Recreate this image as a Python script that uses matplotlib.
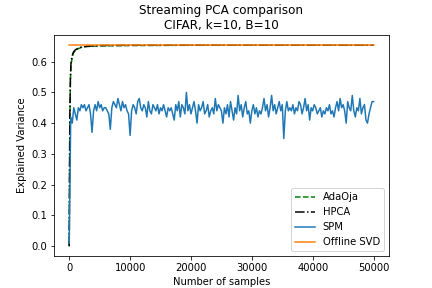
import matplotlib

matplotlib.use("Agg")
import matplotlib.pyplot as plt
import numpy as np

# --- data ---
conv_samples = [0, 50, 100, 200, 300, 500, 700, 1000, 1500, 2000, 3000,
                5000, 10000, 20000, 30000, 40000, 50000]
adaoja = [0.0, 0.22, 0.40, 0.54, 0.59, 0.615, 0.628, 0.636, 0.642, 0.646,
          0.649, 0.651, 0.652, 0.653, 0.653, 0.653, 0.653]
hpca = [0.0, 0.24, 0.42, 0.55, 0.60, 0.62, 0.631, 0.638, 0.644, 0.647,
        0.650, 0.652, 0.653, 0.653, 0.653, 0.653, 0.653]

spm_step = 250
spm = [
    0.01, 0.42, 0.40, 0.45, 0.43, 0.41, 0.45, 0.44, 0.46, 0.45,
    0.46, 0.44, 0.45, 0.46, 0.43, 0.37, 0.44, 0.46, 0.44, 0.47,
    0.45, 0.46, 0.44, 0.45, 0.45, 0.44, 0.43, 0.38, 0.45, 0.47,
    0.46, 0.45, 0.48, 0.46, 0.44, 0.47, 0.45, 0.46, 0.44, 0.43,
    0.36, 0.44, 0.46, 0.45, 0.43, 0.47, 0.48, 0.45, 0.44, 0.46,
    0.45, 0.42, 0.47, 0.44, 0.43, 0.46, 0.45, 0.44, 0.46, 0.43,
    0.45, 0.44, 0.46, 0.44, 0.42, 0.45, 0.44, 0.45, 0.43, 0.41,
    0.46, 0.44, 0.47, 0.42, 0.46, 0.45, 0.43, 0.50, 0.44, 0.46,
    0.43, 0.45, 0.47, 0.44, 0.40, 0.46, 0.44, 0.45, 0.47, 0.43,
    0.44, 0.46, 0.42, 0.44, 0.45, 0.43, 0.48, 0.44, 0.46, 0.45,
    0.44, 0.40, 0.45, 0.43, 0.46, 0.42, 0.47, 0.44, 0.41, 0.45,
    0.43, 0.49, 0.44, 0.46, 0.42, 0.45, 0.47, 0.43, 0.44, 0.40,
    0.44, 0.46, 0.43, 0.45, 0.42, 0.44, 0.43, 0.45, 0.48, 0.44,
    0.46, 0.42, 0.45, 0.49, 0.44, 0.46, 0.43, 0.45, 0.47, 0.44,
    0.46, 0.35, 0.44, 0.47, 0.44, 0.45, 0.44, 0.46, 0.43, 0.45,
    0.44, 0.47, 0.46, 0.43, 0.45, 0.48, 0.44, 0.46, 0.41, 0.45,
    0.44, 0.46, 0.45, 0.43, 0.44, 0.45, 0.42, 0.44, 0.43, 0.45,
    0.44, 0.46, 0.43, 0.44, 0.42, 0.45, 0.47, 0.44, 0.48, 0.45,
    0.46, 0.44, 0.40, 0.47, 0.45, 0.44, 0.49, 0.44, 0.42, 0.45,
    0.44, 0.48, 0.43, 0.45, 0.46, 0.41, 0.40, 0.43, 0.45, 0.47,
    0.47,
]
spm_samples = np.arange(len(spm)) * spm_step

svd_samples = [0, 50000]
svd_value = [0.655, 0.655]

fig, ax = plt.subplots(figsize=(6, 4), dpi=72)

ax.plot(conv_samples, adaoja, "g--", label="AdaOja")
ax.plot(conv_samples, hpca, "k-.", label="HPCA")
ax.plot(spm_samples, spm, color="C0", label="SPM")
ax.plot(svd_samples, svd_value, color="C1", label="Offline SVD")

ax.set_title("Streaming PCA comparison\nCIFAR, k=10, B=10")
ax.set_xlabel("Number of samples")
ax.set_ylabel("Explained Variance")
ax.legend(loc="lower right")

fig.savefig("out.png", dpi=72)
